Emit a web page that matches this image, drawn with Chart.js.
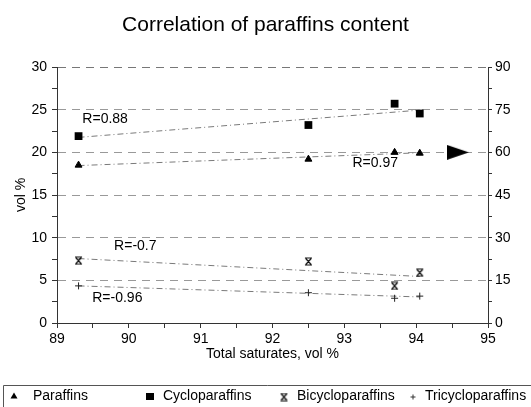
<!DOCTYPE html>
<html><head><meta charset="utf-8">
<script src="https://cdn.jsdelivr.net/npm/chart.js@4"></script>
<style>html,body{margin:0;padding:0;background:#fff}canvas{display:block}</style>
</head><body>
<canvas id="c" width="531" height="407"></canvas>
<script>
// ---- data ----
const categories = ['Paraffins', 'Cycloparaffins', 'Bicycloparaffins', 'Tricycloparaffins'];
const totalSaturates = [89.3, 92.5, 93.7, 94.05];
const paraffins = [18.5, 19.2, 20.0, 19.9];
const cycloparaffins = [21.9, 23.2, 25.7, 24.55];
const bicycloparaffins = [7.3, 7.2, 4.35, 5.9];
const tricycloparaffins = [4.35, 3.55, 2.9, 3.15];
const trendX = [89.3, 94.05];
const paraffinsTrend = [18.45, 19.95];
const cycloTrend = [21.75, 24.95];
const bicycloTrend = [7.55, 5.45];
const tricycloTrend = [4.35, 3.05];
const arrowX = [94.58];
const arrowY = [20];
const rLabels = ['R=0.88', 'R=0.97', 'R=-0.7', 'R=-0.96'];
const rLabelX = [89.67, 93.43, 90.09, 89.84];
const rLabelY = [23.9, 18.7, 9.06, 2.94];
const xTickLabels = ['89', '90', '91', '92', '93', '94', '95'];
const leftTickLabels = ['0', '5', '10', '15', '20', '25', '30'];
const rightTickLabels = ['0', '15', '30', '45', '60', '75', '90'];

const FONT = '"Liberation Sans", Arial, sans-serif';
const pts = (xs, ys) => xs.map((x, i) => ({x: x, y: ys[i]}));

function makeCanvas(w, h, draw) {
  const c = document.createElement('canvas');
  c.width = w; c.height = h;
  const g = c.getContext('2d');
  draw(g);
  return c;
}
const bicycloMarker = makeCanvas(9, 9, g => {
  g.strokeStyle = '#111'; g.lineWidth = 1.2;
  g.beginPath();
  g.moveTo(1, 1); g.lineTo(8, 1);
  g.moveTo(1.8, 1.5); g.lineTo(7.2, 7.5);
  g.moveTo(7.2, 1.5); g.lineTo(1.8, 7.5);
  g.moveTo(1, 8); g.lineTo(8, 8);
  g.stroke();
});
const arrowMarker = makeCanvas(22, 15, g => {
  g.fillStyle = '#000';
  g.beginPath();
  g.moveTo(0, 0); g.lineTo(22, 7.5); g.lineTo(0, 15); g.closePath();
  g.fill();
});

const trendStyle = {showLine: true, pointRadius: 0, borderColor: '#7a7a7a', borderWidth: 1,
  borderDash: [6, 3, 1, 3], fill: false, order: 2};

const labelPlugin = {
  id: 'rlabels',
  afterDatasetsDraw(chart) {
    const ctx = chart.ctx, xs = chart.scales.x, ys = chart.scales.y;
    ctx.save();
    ctx.font = '14px ' + FONT;
    ctx.fillStyle = '#000';
    ctx.textAlign = 'center';
    ctx.textBaseline = 'middle';
    rLabels.forEach((t, i) => {
      ctx.fillText(t, xs.getPixelForValue(rLabelX[i]), ys.getPixelForValue(rLabelY[i]));
    });
    ctx.restore();
  }
};

const legendPlugin = {
  id: 'boxLegend',
  afterDraw(chart) {
    const ctx = chart.ctx;
    ctx.save();
    ctx.strokeStyle = '#555'; ctx.lineWidth = 1;
    ctx.beginPath();
    ctx.moveTo(3.5, 407); ctx.lineTo(3.5, 385.5); ctx.lineTo(531, 385.5);
    ctx.stroke();
    const cy = 396;
    const markerX = [14, 150, 284, 413];
    const textX = [33, 163, 297, 425];
    ctx.fillStyle = '#000';
    ctx.beginPath(); ctx.moveTo(markerX[0], cy - 3.5); ctx.lineTo(markerX[0] + 3.5, cy + 2.5); ctx.lineTo(markerX[0] - 3.5, cy + 2.5); ctx.closePath(); ctx.fill();
    ctx.fillRect(markerX[1] - 4, cy - 3, 8, 7);
    ctx.drawImage(bicycloMarker, markerX[2] - 4.5, cy - 3.5);
    ctx.strokeStyle = '#333'; ctx.lineWidth = 1;
    ctx.beginPath(); ctx.moveTo(markerX[3] - 2.5, cy + 1); ctx.lineTo(markerX[3] + 2.5, cy + 1);
    ctx.moveTo(markerX[3], cy - 1.5); ctx.lineTo(markerX[3], cy + 3.5); ctx.stroke();
    ctx.font = '14px ' + FONT;
    ctx.textAlign = 'left'; ctx.textBaseline = 'middle';
    categories.forEach((t, i) => ctx.fillText(t, textX[i], cy));
    ctx.restore();
  }
};

new Chart(document.getElementById('c'), {
  type: 'scatter',
  data: {
    datasets: [
      {label: categories[0], data: pts(totalSaturates, paraffins), pointStyle: 'triangle', pointRadius: 4,
        backgroundColor: '#000', borderColor: '#000', borderWidth: 1, order: 0},
      {label: categories[1], data: pts(totalSaturates, cycloparaffins), pointStyle: 'rect', pointRadius: 5.5,
        backgroundColor: '#000', borderColor: '#000', borderWidth: 0, order: 0},
      {label: categories[2], data: pts(totalSaturates, bicycloparaffins), pointStyle: bicycloMarker, pointRadius: 5, order: 0},
      {label: categories[3], data: pts(totalSaturates, tricycloparaffins), pointStyle: 'cross', pointRadius: 3.5,
        borderColor: '#222', borderWidth: 1, order: 0},
      Object.assign({label: 'trend1', data: pts(trendX, paraffinsTrend)}, trendStyle),
      Object.assign({label: 'trend2', data: pts(trendX, cycloTrend)}, trendStyle),
      Object.assign({label: 'trend3', data: pts(trendX, bicycloTrend)}, trendStyle),
      Object.assign({label: 'trend4', data: pts(trendX, tricycloTrend)}, trendStyle),
      {label: 'arrow', data: pts(arrowX, arrowY), pointStyle: arrowMarker, pointRadius: 8, order: 0}
    ]
  },
  options: {
    responsive: false,
    animation: false,
    events: [],
    layout: {padding: {left: 0, right: 0, top: 0, bottom: 39}},
    plugins: {
      legend: {display: false},
      tooltip: {enabled: false},
      title: {display: true, text: 'Correlation of paraffins content', color: '#000',
        font: {family: FONT, size: 21, weight: 'normal'}, padding: {top: 12.4, bottom: 29.4}}
    },
    scales: {
      x: {
        type: 'linear', position: 'bottom', min: 89, max: 95,
        afterFit: s => { s.height = 45; },
        ticks: {stepSize: 0.5, autoSkip: false, maxRotation: 0, color: '#000', padding: 3,
          font: {family: FONT, size: 14},
          callback: v => Number.isInteger(v) ? xTickLabels[v - 89] : ''},
        grid: {display: true, drawOnChartArea: false, drawTicks: true, tickLength: 5, tickColor: '#333'},
        border: {display: true, color: '#333', width: 1},
        title: {display: true, text: 'Total saturates, vol %', color: '#000',
          font: {family: FONT, size: 14}, padding: {top: 0, bottom: 5.6}}
      },
      y: {
        type: 'linear', position: 'left', min: 0, max: 30,
        afterFit: s => { s.width = 57; },
        ticks: {stepSize: 2.5, autoSkip: false, color: '#000', padding: 5,
          font: {family: FONT, size: 14},
          callback: v => (v % 5 === 0) ? leftTickLabels[v / 5] : ''},
        grid: {display: true, drawOnChartArea: true, drawTicks: true, tickLength: 5, tickColor: '#333',
          color: c => (c.tick && c.tick.value % 5 === 0 && c.tick.value !== 0) ? (c.tick.value === 30 ? '#777' : '#999') : 'rgba(0,0,0,0)',
          lineWidth: 1},
        border: {display: true, color: '#333', width: 1, dash: [8, 6]},
        title: {display: true, text: 'vol %', color: '#000', font: {family: FONT, size: 14}, padding: {top: 12.6, bottom: 0}}
      },
      y2: {
        type: 'linear', position: 'right', min: 0, max: 90,
        afterFit: s => { s.width = 43; },
        ticks: {stepSize: 7.5, autoSkip: false, color: '#000', padding: 3,
          font: {family: FONT, size: 14},
          callback: v => (v % 15 === 0) ? rightTickLabels[v / 15] : ''},
        grid: {display: true, drawOnChartArea: false, drawTicks: true, tickLength: 4, tickColor: '#333'},
        border: {display: true, color: '#333', width: 1}
      }
    }
  },
  plugins: [labelPlugin, legendPlugin]
});
</script>
</body></html>
